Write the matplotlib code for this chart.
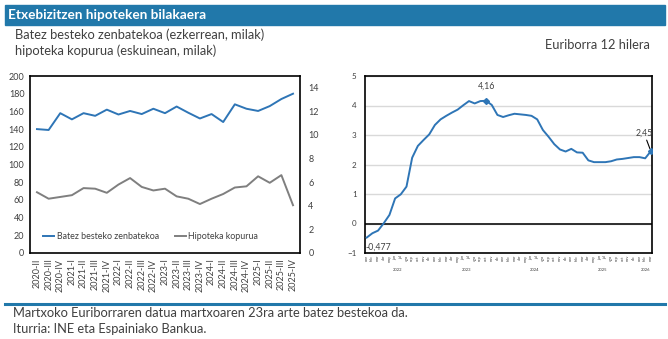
import matplotlib.pyplot as plt
from matplotlib.lines import Line2D

# datuak
quarters = ['2020-II', '2020-III', '2020-IV', '2021-I', '2021-II', '2021-III', '2021-IV',
            '2022-I', '2022-II', '2022-III', '2022-IV', '2023-I', '2023-II', '2023-III',
            '2023-IV', '2024-I', '2024-II', '2024-III', '2024-IV', '2025-I', '2025-II',
            '2025-III', '2025-IV']
zenbatekoa = [140, 139, 158, 151, 158, 155, 162, 156.5, 160.5, 157, 163, 158, 165.5, 158.5,
              152, 157, 148, 168, 163, 160.5, 166, 174, 180]
kopurua = [5.15, 4.6, 4.75, 4.9, 5.5, 5.45, 5.1, 5.8, 6.35, 5.6, 5.3, 5.45, 4.8, 4.6,
           4.15, 4.6, 5.0, 5.55, 5.65, 6.5, 5.95, 6.6, 4.05]

years = ['2022', '2023', '2024', '2025', '2026']
months = ['ene', 'feb', 'mar', 'abr', 'may', 'jun', 'jul', 'ago', 'sep', 'oct', 'nov', 'dic']
euribor = [-0.477, -0.33, -0.24, 0.01, 0.29, 0.85, 0.99, 1.25, 2.23, 2.63, 2.83, 3.02,
           3.34, 3.53, 3.65, 3.76, 3.86, 4.01, 4.15, 4.07, 4.15, 4.16, 4.02, 3.68,
           3.61, 3.67, 3.72, 3.70, 3.68, 3.65, 3.53, 3.17, 2.94, 2.69, 2.51, 2.44,
           2.53, 2.41, 2.40, 2.14, 2.08, 2.08, 2.08, 2.11, 2.17, 2.19, 2.22, 2.25,
           2.25, 2.21, 2.45]

blue = '#2E75B6'
gray = '#7F7F7F'
txt = '#404040'
bar = '#2178AA'

plt.rcParams['font.family'] = ['Lato', 'DejaVu Sans']

W, H = 668, 339
fig = plt.figure(figsize=(W / 100, H / 100), dpi=100)


def box(x0, y0, x1, y1):
    # pixel box (top-left origin) -> figure fraction
    return [x0 / W, 1 - y1 / H, (x1 - x0) / W, (y1 - y0) / H]


# goiburua
fig.patches.append(plt.Rectangle((5 / W, 1 - 25 / H), 660 / W, 20 / H,
                                 transform=fig.transFigure, color=bar, zorder=0))
fig.text(8 / W, 1 - 15 / H, 'Etxebizitzen hipoteken bilakaera', color='white',
         fontsize=9.8, fontweight='bold', va='center')
fig.text(15 / W, 1 - 35 / H, 'Batez besteko zenbatekoa (ezkerrean, milak)', color=txt,
         fontsize=9.3, va='center')
fig.text(15 / W, 1 - 51 / H, 'hipoteka kopurua (eskuinean, milak)', color=txt,
         fontsize=9.3, va='center')
fig.text(650 / W, 1 - 45 / H, 'Euriborra 12 hilera', color=txt, fontsize=9.3,
         va='center', ha='right')

# ezkerreko grafikoa
ax = fig.add_axes(box(30, 76, 300, 253))
xq = list(range(len(quarters)))
ax.plot(xq, zenbatekoa, color=blue, lw=1.4)
ax.set_ylim(0, 200)
ax.set_yticks(range(0, 201, 20))
ax.set_xlim(-0.6, len(quarters) - 0.4)
ax.set_xticks(xq)
ax.set_xticklabels(quarters, rotation=90, fontsize=6.5, color=txt)
ax.tick_params(axis='both', length=0, pad=4)
ax.tick_params(axis='y', labelsize=6.5, labelcolor=txt)
for s in ax.spines.values():
    s.set_linewidth(1.2)

ax2 = ax.twinx()
ax2.plot(xq, kopurua, color=gray, lw=1.4)
ax2.set_ylim(0, 15)
ax2.set_yticks(range(0, 15, 2))
ax2.tick_params(axis='y', length=0, labelsize=6.5, labelcolor=txt, pad=6)
for s in ax2.spines.values():
    s.set_visible(False)

handles = [Line2D([], [], color=blue, lw=1.4), Line2D([], [], color=gray, lw=1.4)]
ax.legend(handles, ['Batez besteko zenbatekoa', 'Hipoteka kopurua'], loc='lower left',
          bbox_to_anchor=(0.02, 0.02), ncol=2, frameon=False, fontsize=6.4,
          handlelength=1.2, handletextpad=0.3, columnspacing=1.8, labelcolor=txt)

# eskuineko grafikoa
bx = fig.add_axes(box(365, 76, 652, 253))
xm = list(range(len(euribor)))
bx.plot(xm, euribor, color=blue, lw=1.4, zorder=3)
bx.set_ylim(-1, 5)
bx.set_yticks(range(-1, 6))
bx.set_xlim(-0.3, len(euribor) - 0.8)
bx.grid(axis='y', color='#D9D9D9', lw=1)
bx.axhline(0, color='#202020', lw=1.3, zorder=2)
bx.tick_params(axis='y', length=0, labelsize=5.8, labelcolor=txt, pad=6)
bx.set_xticks(xm)
bx.set_xticklabels([months[i % 12] for i in xm], rotation=90, fontsize=2.8, color=txt)
bx.tick_params(axis='x', length=0, pad=1.5)
for s in bx.spines.values():
    s.set_linewidth(1.2)
for k, y in enumerate(years):
    n = min(12, len(euribor) - 12 * k)
    bx.text(12 * k + (n - 1) / 2, -0.095, y, transform=bx.get_xaxis_transform(),
            ha='center', va='center', fontsize=3, color=txt)

ipk = euribor.index(max(euribor))
bx.plot(ipk, euribor[ipk], marker='D', ms=3, color=blue, zorder=4)
bx.annotate('4,16', (ipk, euribor[ipk]), xytext=(0, 7), textcoords='offset points',
            ha='center', va='bottom', fontsize=6.3, color=txt)
last = len(euribor) - 1
bx.plot(last, euribor[last], marker='D', ms=3, color=blue, zorder=4)
bx.annotate('2,45', (last, euribor[last]), xytext=(-5, 10), textcoords='offset points',
            ha='center', va='bottom', fontsize=6.3, color=txt,
            arrowprops=dict(arrowstyle='-', color='black', lw=0.8, shrinkA=0, shrinkB=2))
bx.annotate('-0,477', (0, euribor[0]), xytext=(-1, -4), textcoords='offset points',
            ha='left', va='top', fontsize=6.3, color=txt)

# oina
fig.add_artist(Line2D([5 / W, 665 / W], [1 - 304 / H, 1 - 304 / H], color=bar, lw=2.2))
fig.text(13 / W, 1 - 313 / H, 'Martxoko Euriborraren datua martxoaren 23ra arte batez bestekoa da.',
         color=txt, fontsize=9.3, va='center')
fig.text(13 / W, 1 - 329 / H, 'Iturria: INE eta Espainiako Bankua.', color=txt,
         fontsize=9.3, va='center')

fig.savefig('out.png', dpi=100)
